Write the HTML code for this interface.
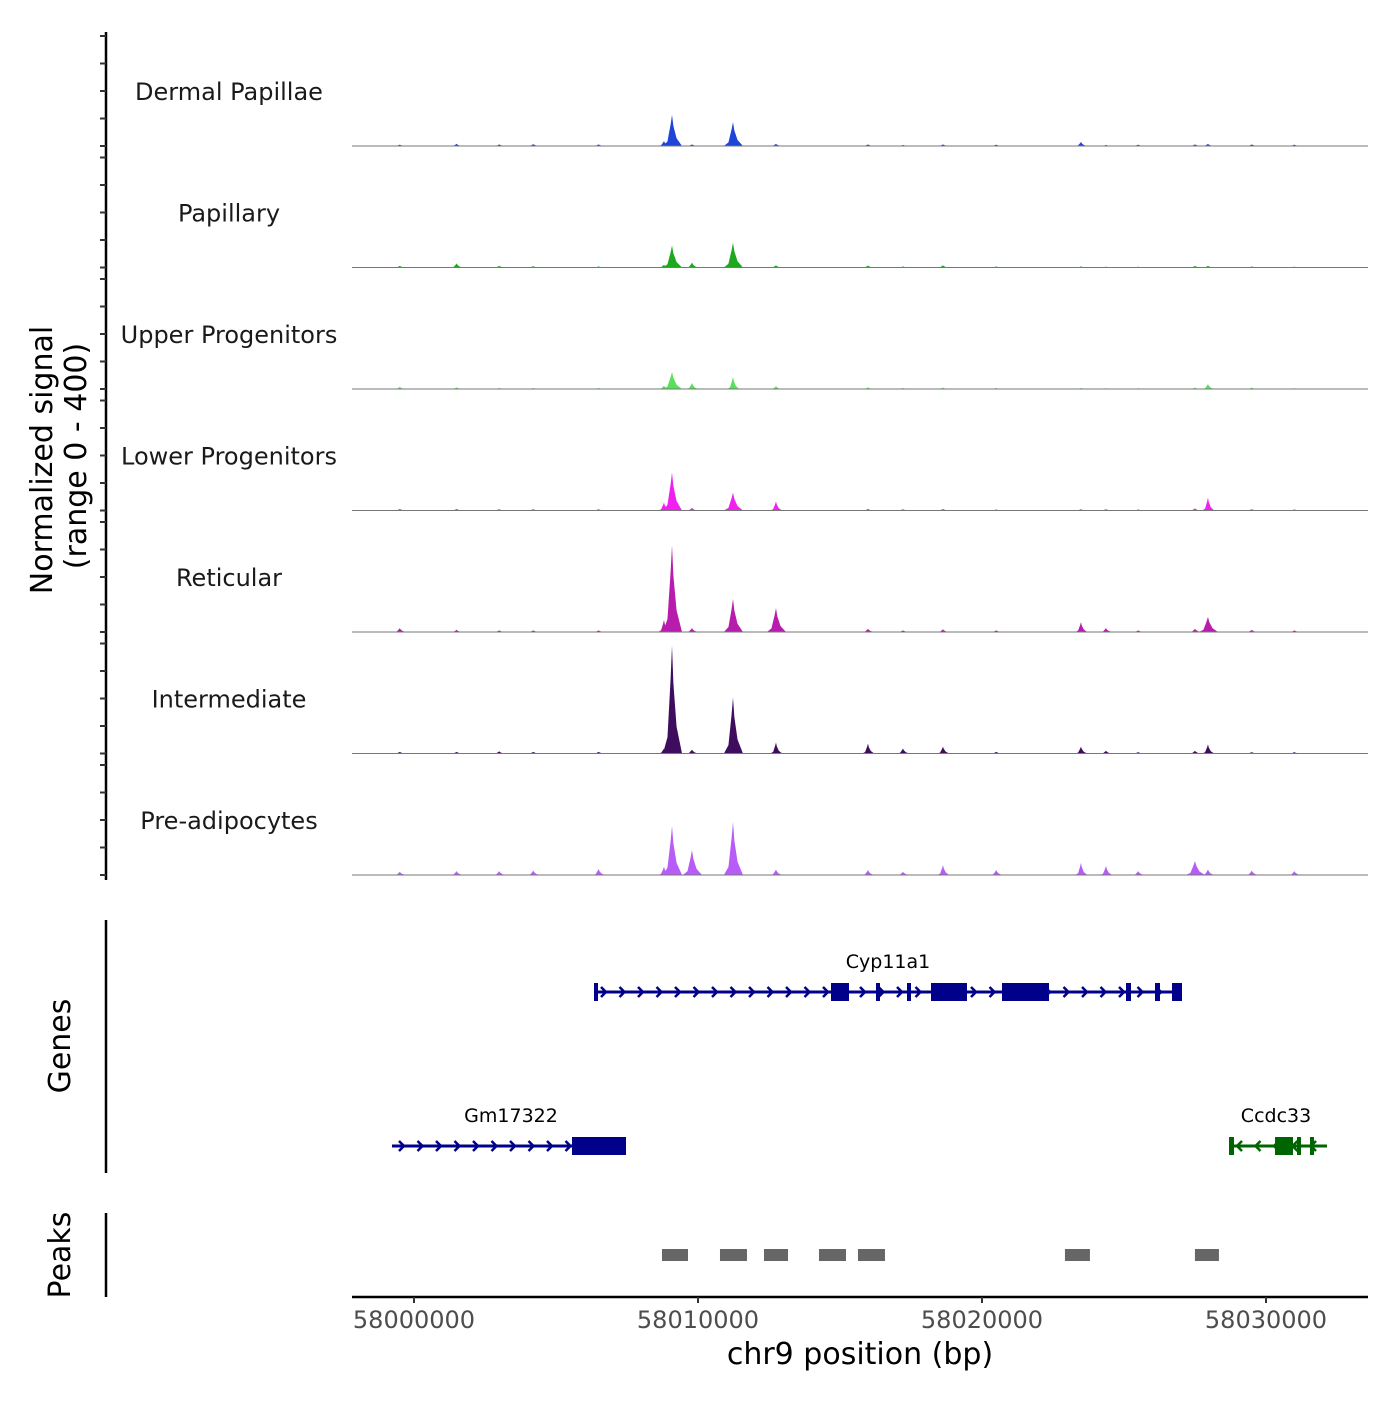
<!DOCTYPE html>
<html><head><meta charset="utf-8"><style>
html,body{margin:0;padding:0;background:#fff;}
svg text{font-family:"DejaVu Sans","Liberation Sans",sans-serif;}
</style></head><body>
<svg id="chart" width="1400" height="1400" viewBox="0 0 1400 1400">
<g id="cov"></g>
<g id="genes"></g>
<g id="peaks"></g>
<g id="axes"></g>
</svg>
<script>
const trackNames = ["Dermal Papillae","Papillary","Upper Progenitors","Lower Progenitors","Reticular","Intermediate","Pre-adipocytes"];
const trackColors = ["#1f44d8","#1ea81e","#58e058","#f020f0","#b81cad","#3e0d5e","#b75cf7"];
const peakPos = [58008802,58009085,58009788,58011232,58012746,58015985,58017218,58018626,58023485,58024365,58027499,58027957,58006500,58001500,57999500,58003000,58004200,58020500,58025500,58029500,58031000];
const dermalVals = [18,113,6,87,8,6,4,6,15,4,6,8,6,8,5,6,7,5,5,6,5];
const papillaryVals = [10,80,18,91,8,7,4,8,4,3,6,6,4,15,6,6,5,4,3,4,3];
const upperVals = [12,62,22,44,10,6,4,5,4,3,5,18,4,6,8,4,4,4,3,5,3];
const lowerVals = [29,138,10,65,33,6,5,6,5,5,8,47,5,6,6,5,5,4,4,5,4];
const reticularVals = [44,316,14,120,87,12,6,10,36,14,12,55,6,8,14,6,6,6,6,8,6];
const intermediateVals = [18,393,14,204,40,36,18,25,25,10,10,33,6,6,6,8,6,6,5,5,5];
const preadipoVals = [30,178,91,193,20,18,12,36,44,33,51,20,22,14,12,14,16,18,14,16,14];
const trackVals = [dermalVals,papillaryVals,upperVals,lowerVals,reticularVals,intermediateVals,preadipoVals];
const xTicks = [58000000,58010000,58020000,58030000];
const peakStarts = [58008732,58010774,58012324,58014261,58015633,58022921,58027498];
const peakEnds = [58009648,58011725,58013169,58015211,58016584,58023801,58028343];

const NS="http://www.w3.org/2000/svg";
const X0=352, BP0=57997817, PXBP=0.0284;
const x = bp => X0 + (bp-BP0)*PXBP;
const yv = v => v*110/400;
function mk(tag, attrs, parent){const e=document.createElementNS(NS,tag);for(const k in attrs)e.setAttribute(k,attrs[k]);parent.appendChild(e);return e;}
const cov=document.getElementById('cov');
trackNames.forEach((name,i)=>{
  const base=146+i*121.5;
  const g=mk('g',{},cov);
  
  
  const t=mk('text',{x:229,y:base-46,'text-anchor':'middle','font-size':24,fill:'#1a1a1a'},g);
  t.textContent=name;
  
  
  trackVals[i].forEach((v,j)=>{
    const p=peakPos[j], w=v>50?320:200, h=yv(v);
    const cx=x(p);
    const pts=[[x(p-w),base],[x(p-w*0.5),base-h*0.15],[x(p-w*0.15),base-h*0.7],[cx,base-h],[x(p+w*0.15),base-h*0.65],[x(p+w*0.5),base-h*0.25],[x(p+w*1.1),base]];
    const pg=mk('polygon',{points:pts.map(q=>q.join(',')).join(' '),fill:trackColors[i]},g);
    
    
  });
  const bl=mk('line',{x1:352,x2:1368,y1:base,y2:base,stroke:'#777','stroke-width':1},g);
  
  
});
const genes=document.getElementById('genes');
function gene(name,y,x1,x2,exons,color,strand,lx){
  const g=mk('g',{},genes);
  
  
  mk('line',{x1:x1,x2:x2,y1:y,y2:y,stroke:color,'stroke-width':3},g);
  for(let a=x1+10;a<x2-4;a+=18.5){
    const d=strand>0?`M${a-3},${y-5} L${a+2},${y} L${a-3},${y+5}`:`M${a+3},${y-5} L${a-2},${y} L${a+3},${y+5}`;
    mk('path',{d:d,stroke:color,'stroke-width':2.5,fill:'none'},g);
  }
  exons.forEach(e=>mk('rect',{x:e[0],y:y-9,width:e[1]-e[0],height:18,fill:color},g));
  const t=mk('text',{x:lx,y:y-24,'text-anchor':'middle','font-size':19,fill:'#000'},g);
  t.textContent=name;
}
gene('Cyp11a1',992,594,1182,[[594,598],[831,849],[876,880],[907,911],[931,967],[1002,1049],[1126,1131],[1155,1160],[1172,1182]],'#00008b',1,888);
gene('Gm17322',1146,392,626,[[572,626]],'#00008b',1,511);
gene('Ccdc33',1146,1229,1327,[[1229,1234],[1275,1293],[1297,1301],[1310,1314]],'#006400',-1,1276);
const pk=document.getElementById('peaks');
peakStarts.forEach((s,i)=>{
  const r=mk('rect',{x:x(s),y:1249,width:x(peakEnds[i])-x(s),height:12,fill:'#666'},pk);
  
  
});
const ax=document.getElementById('axes');
mk('line',{x1:106,x2:106,y1:32,y2:880,stroke:'#000','stroke-width':2.5},ax);
for(let i=0;i<7;i++){const b=146+i*121.5;for(let k=0;k<5;k++){const yy=b-k*27.5;mk('line',{x1:100,x2:106,y1:yy,y2:yy,stroke:'#333','stroke-width':2},ax);}}
mk('line',{x1:106,x2:106,y1:920,y2:1173,stroke:'#000','stroke-width':2.5},ax);
mk('line',{x1:106,x2:106,y1:1213,y2:1297,stroke:'#000','stroke-width':2.5},ax);
mk('line',{x1:352,x2:1368,y1:1297,y2:1297,stroke:'#000','stroke-width':2.5},ax);
xTicks.forEach(t=>{
  const xx=x(t);
  mk('line',{x1:xx,x2:xx,y1:1297,y2:1303,stroke:'#333','stroke-width':2},ax);
  const tx=mk('text',{x:xx,y:1328,'text-anchor':'middle','font-size':24,fill:'#4d4d4d'},ax);
  tx.textContent=t;
  
  
});
const xt=mk('text',{x:860,y:1364,'text-anchor':'middle','font-size':30,fill:'#000'},ax);
xt.textContent='chr9 position (bp)';


const yt=mk('text',{transform:'translate(52,460) rotate(-90)','text-anchor':'middle','font-size':30,fill:'#000'},ax);
yt.textContent='Normalized signal';


const yt2=mk('text',{transform:'translate(86,456) rotate(-90)','text-anchor':'middle','font-size':30,fill:'#000'},ax);
yt2.textContent='(range 0 - 400)';


const gt=mk('text',{transform:'translate(70,1046) rotate(-90)','text-anchor':'middle','font-size':30,fill:'#000'},ax);
gt.textContent='Genes';


const pt=mk('text',{transform:'translate(70,1255) rotate(-90)','text-anchor':'middle','font-size':30,fill:'#000'},ax);
pt.textContent='Peaks';


</script>
</body></html>
